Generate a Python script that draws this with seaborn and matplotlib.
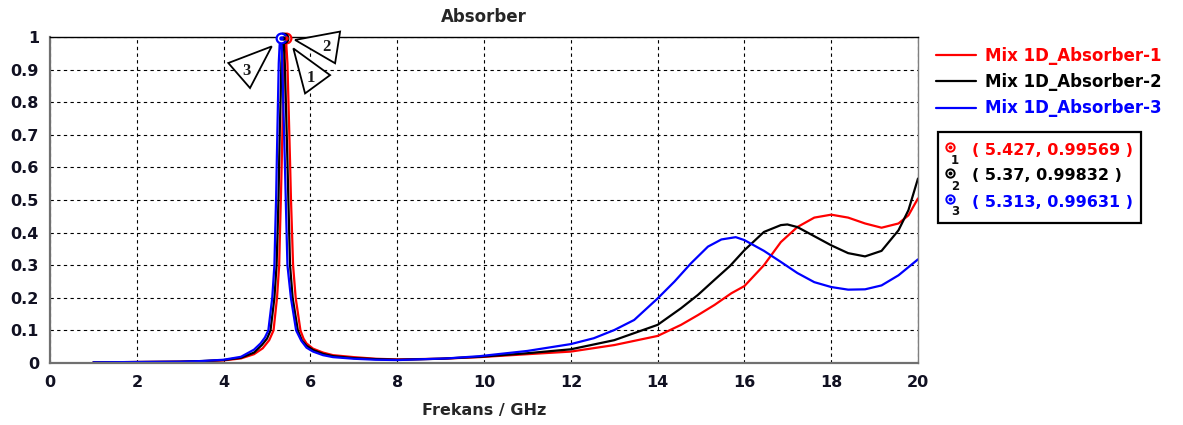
import matplotlib
matplotlib.use("Agg")
import matplotlib.pyplot as plt
import matplotlib.transforms as mtransforms
from matplotlib.lines import Line2D
from matplotlib.patches import Polygon, Rectangle
import pandas as pd
import seaborn as sns

# ---- data -------------------------------------------------------------
series_names = ["Mix 1D_Absorber-1", "Mix 1D_Absorber-2", "Mix 1D_Absorber-3"]
series_colors = ["#ff0000", "#000000", "#0000ff"]

freq_1 = [1.0, 2.0, 3.0, 3.5, 4.0, 4.4, 4.7, 4.9, 5.05, 5.15, 5.23, 5.28, 5.30,
          5.32, 5.34, 5.355, 5.375, 5.39, 5.41, 5.427, 5.445, 5.47, 5.49, 5.51,
          5.53, 5.55, 5.60, 5.66, 5.77, 5.84, 5.91, 6.06, 6.29, 6.52, 7.0, 7.5,
          8.0, 9.0, 9.9, 11.0, 12.0, 13.0, 14.0, 14.54, 14.93, 15.31, 15.7,
          16.0, 16.45, 16.84, 17.22, 17.61, 18.0, 18.39, 18.78, 19.16, 19.55,
          19.78, 20.0]
abs_1 = [0.002, 0.003, 0.004, 0.005, 0.008, 0.014, 0.027, 0.045, 0.07, 0.10,
         0.20, 0.30, 0.41, 0.51, 0.62, 0.72, 0.82, 0.92, 0.975, 0.99569, 0.975,
         0.92, 0.82, 0.72, 0.62, 0.51, 0.30, 0.20, 0.10, 0.075, 0.06, 0.044,
         0.032, 0.024, 0.018, 0.013, 0.011, 0.013, 0.018, 0.027, 0.035, 0.055,
         0.083, 0.117, 0.147, 0.178, 0.214, 0.236, 0.30, 0.371, 0.417, 0.446,
         0.455, 0.446, 0.428, 0.415, 0.428, 0.453, 0.505]

freq_2 = [1.0, 2.0, 3.0, 3.5, 4.0, 4.4, 4.7, 4.88, 5.0, 5.08, 5.17, 5.22, 5.245,
          5.265, 5.28, 5.295, 5.315, 5.33, 5.35, 5.37, 5.39, 5.41, 5.43, 5.45,
          5.47, 5.49, 5.53, 5.59, 5.71, 5.80, 5.91, 6.06, 6.29, 6.52, 7.0, 7.5,
          8.0, 9.0, 9.9, 11.0, 12.0, 13.0, 14.0, 14.54, 14.93, 15.31, 15.67,
          16.0, 16.45, 16.84, 16.99, 17.22, 17.61, 18.0, 18.39, 18.78, 19.16,
          19.55, 19.78, 20.0]
abs_2 = [0.002, 0.003, 0.004, 0.006, 0.009, 0.016, 0.032, 0.055, 0.075, 0.10,
         0.20, 0.30, 0.41, 0.51, 0.62, 0.72, 0.82, 0.92, 0.975, 0.99832, 0.975,
         0.92, 0.82, 0.72, 0.62, 0.51, 0.30, 0.20, 0.10, 0.07, 0.053, 0.04,
         0.028, 0.021, 0.015, 0.012, 0.010, 0.013, 0.019, 0.030, 0.042, 0.070,
         0.117, 0.168, 0.209, 0.255, 0.298, 0.346, 0.402, 0.423, 0.425, 0.417,
         0.389, 0.361, 0.337, 0.327, 0.344, 0.407, 0.469, 0.566]

freq_3 = [1.0, 2.0, 3.0, 3.5, 4.0, 4.4, 4.7, 4.85, 4.95, 5.03, 5.12, 5.17, 5.19,
          5.21, 5.225, 5.24, 5.255, 5.27, 5.29, 5.313, 5.335, 5.35, 5.37, 5.39,
          5.41, 5.43, 5.47, 5.55, 5.67, 5.79, 5.91, 6.06, 6.29, 6.52, 7.0, 7.5,
          8.0, 9.14, 9.9, 11.0, 12.0, 12.53, 13.0, 13.46, 14.0, 14.39, 14.77,
          15.16, 15.47, 15.8, 16.0, 16.45, 16.84, 17.22, 17.61, 18.0, 18.39,
          18.78, 19.16, 19.55, 20.0]
abs_3 = [0.002, 0.003, 0.004, 0.006, 0.010, 0.019, 0.041, 0.06, 0.078, 0.10,
         0.20, 0.30, 0.41, 0.51, 0.62, 0.72, 0.82, 0.92, 0.975, 0.99631, 0.975,
         0.92, 0.82, 0.72, 0.62, 0.51, 0.30, 0.20, 0.10, 0.068, 0.047, 0.035,
         0.024, 0.018, 0.013, 0.010, 0.009, 0.014, 0.021, 0.037, 0.058, 0.076,
         0.101, 0.132, 0.198, 0.25, 0.306, 0.357, 0.379, 0.386, 0.377, 0.344,
         0.31, 0.276, 0.248, 0.233, 0.225, 0.226, 0.238, 0.269, 0.318]

marker_ids = ["1", "2", "3"]
marker_freq = [5.427, 5.37, 5.313]
marker_abs = [0.99569, 0.99832, 0.99631]

x_ticks = [0, 2, 4, 6, 8, 10, 12, 14, 16, 18, 20]
y_ticks = [0, 0.1, 0.2, 0.3, 0.4, 0.5, 0.6, 0.7, 0.8, 0.9, 1]
y_tick_labels = ["0", "0.1", "0.2", "0.3", "0.4", "0.5", "0.6", "0.7", "0.8", "0.9", "1"]

# ---- long-form table for seaborn --------------------------------------
frames = []
for name, f, a in zip(series_names, [freq_1, freq_2, freq_3], [abs_1, abs_2, abs_3]):
    frames.append(pd.DataFrame({"freq": f, "absorption": a, "series": name}))
df = pd.concat(frames, ignore_index=True)

sns.set_theme(style="white")
plt.rcParams["font.family"] = ["DejaVu Sans"]
plt.rcParams["font.weight"] = "bold"

fig = plt.figure(figsize=(11.83, 4.25), dpi=100)
ax = fig.add_axes([0.0423, 0.1459, 0.7337, 0.7670])

palette = dict(zip(series_names, series_colors))
sns.lineplot(data=df, x="freq", y="absorption", hue="series", palette=palette,
             estimator=None, sort=False, linewidth=1.6, ax=ax, legend=False)

ax.set_xlim(0, 20)
ax.set_ylim(0, 1)
ax.set_xticks(x_ticks)
ax.set_xticklabels([str(t) for t in x_ticks])
ax.set_yticks(y_ticks)
ax.set_yticklabels(y_tick_labels)
ax.tick_params(axis="both", direction="out", length=4, width=1, color="#555555",
               labelsize=11.5, labelcolor="#111122")
ax.tick_params(axis="x", pad=5)
ax.tick_params(axis="y", pad=4)
for lab in ax.get_xticklabels() + ax.get_yticklabels():
    lab.set_fontweight("bold")

ax.grid(True, color="black", linestyle=(0, (3, 3)), linewidth=0.8)
ax.set_axisbelow(True)
for side in ("left", "bottom"):
    ax.spines[side].set_color("#707070")
    ax.spines[side].set_linewidth(1.6)
ax.spines["right"].set_color("#808080")
ax.spines["right"].set_linewidth(1.0)
ax.spines["top"].set_color("black")
ax.spines["top"].set_linewidth(1.0)

ax.set_title("Absorber", fontsize=12, fontweight="bold", pad=11)
ax.set_xlabel("Frekans / GHz", fontsize=11.5, fontweight="bold", labelpad=9)
ax.set_ylabel("")

# ---- peak markers with triangular callouts -----------------------------
callouts = {
    "1": dict(tri=[(7.8, -10), (44.5, -36.7), (19.5, -55)], txt=(25, -40)),
    "2": dict(tri=[(12, -2.4), (57, 6), (52, -25.7)], txt=(43, -9)),
    "3": dict(tri=[(-8.9, -8.2), (-52.3, -24.8), (-30.6, -49.8)], txt=(-34, -33)),
}
for mid, fx, fa, col in zip(marker_ids, marker_freq, marker_abs, series_colors):
    ax.plot([fx], [fa], marker="o", markersize=7, markerfacecolor="white",
            markeredgecolor=col, markeredgewidth=1.6, clip_on=False, zorder=6)
    ax.plot([fx], [fa], marker="o", markersize=2.2, color=col, clip_on=False, zorder=7)
    spec = callouts[mid]
    trans = fig.dpi_scale_trans + mtransforms.ScaledTranslation(fx, fa, ax.transData)
    verts = [(dx / 100.0, dy / 100.0) for dx, dy in spec["tri"]]
    ax.add_patch(Polygon(verts, closed=True, facecolor="white", edgecolor="black",
                         linewidth=1.3, transform=trans, clip_on=False, zorder=8))
    ax.annotate(mid, xy=(fx, fa), xytext=spec["txt"], textcoords="offset pixels",
                ha="center", va="center", fontsize=12, fontweight="bold",
                family="Liberation Serif", color="#1a1a1a", zorder=9,
                annotation_clip=False)

# ---- legend ----------------------------------------------------------
handles = [Line2D([], [], color=c, linewidth=1.6) for c in series_colors]
leg = fig.legend(handles, series_names, loc="upper left",
                 bbox_to_anchor=(0.791, 0.890), frameon=False,
                 prop=dict(size=12, weight="bold"), labelcolor=series_colors,
                 handlelength=2.4, handletextpad=0.55, labelspacing=0.5,
                 borderaxespad=0.0, borderpad=0.0)

# ---- marker readout box ---------------------------------------------
W, H = 1183.0, 425.0
box = Rectangle((938 / W, 1 - 223 / H), (1141 - 938) / W, (223 - 132) / H,
                transform=fig.transFigure, facecolor="white", edgecolor="black",
                linewidth=1.6)
fig.add_artist(box)
row_y = [150, 176, 202]
for mid, fx, fa, col, ry in zip(marker_ids, marker_freq, marker_abs, series_colors, row_y):
    sym_xy = (950 / W, 1 - (ry - 3) / H)
    fig.add_artist(Line2D([sym_xy[0]], [sym_xy[1]], marker="o", markersize=6,
                          markerfacecolor="white", markeredgecolor=col,
                          markeredgewidth=1.4, transform=fig.transFigure))
    fig.add_artist(Line2D([sym_xy[0]], [sym_xy[1]], marker="o", markersize=1.8,
                          color=col, transform=fig.transFigure))
    fig.text(955 / W, 1 - (ry + 10) / H, mid, color="#111111", fontsize=8.5,
             ha="center", va="center", fontweight="bold")
    fig.text(972 / W, 1 - ry / H, f"( {fx:g}, {fa:g} )", color=col, fontsize=11.5,
             ha="left", va="center", fontweight="bold")

fig.savefig("out.png", dpi=100)
